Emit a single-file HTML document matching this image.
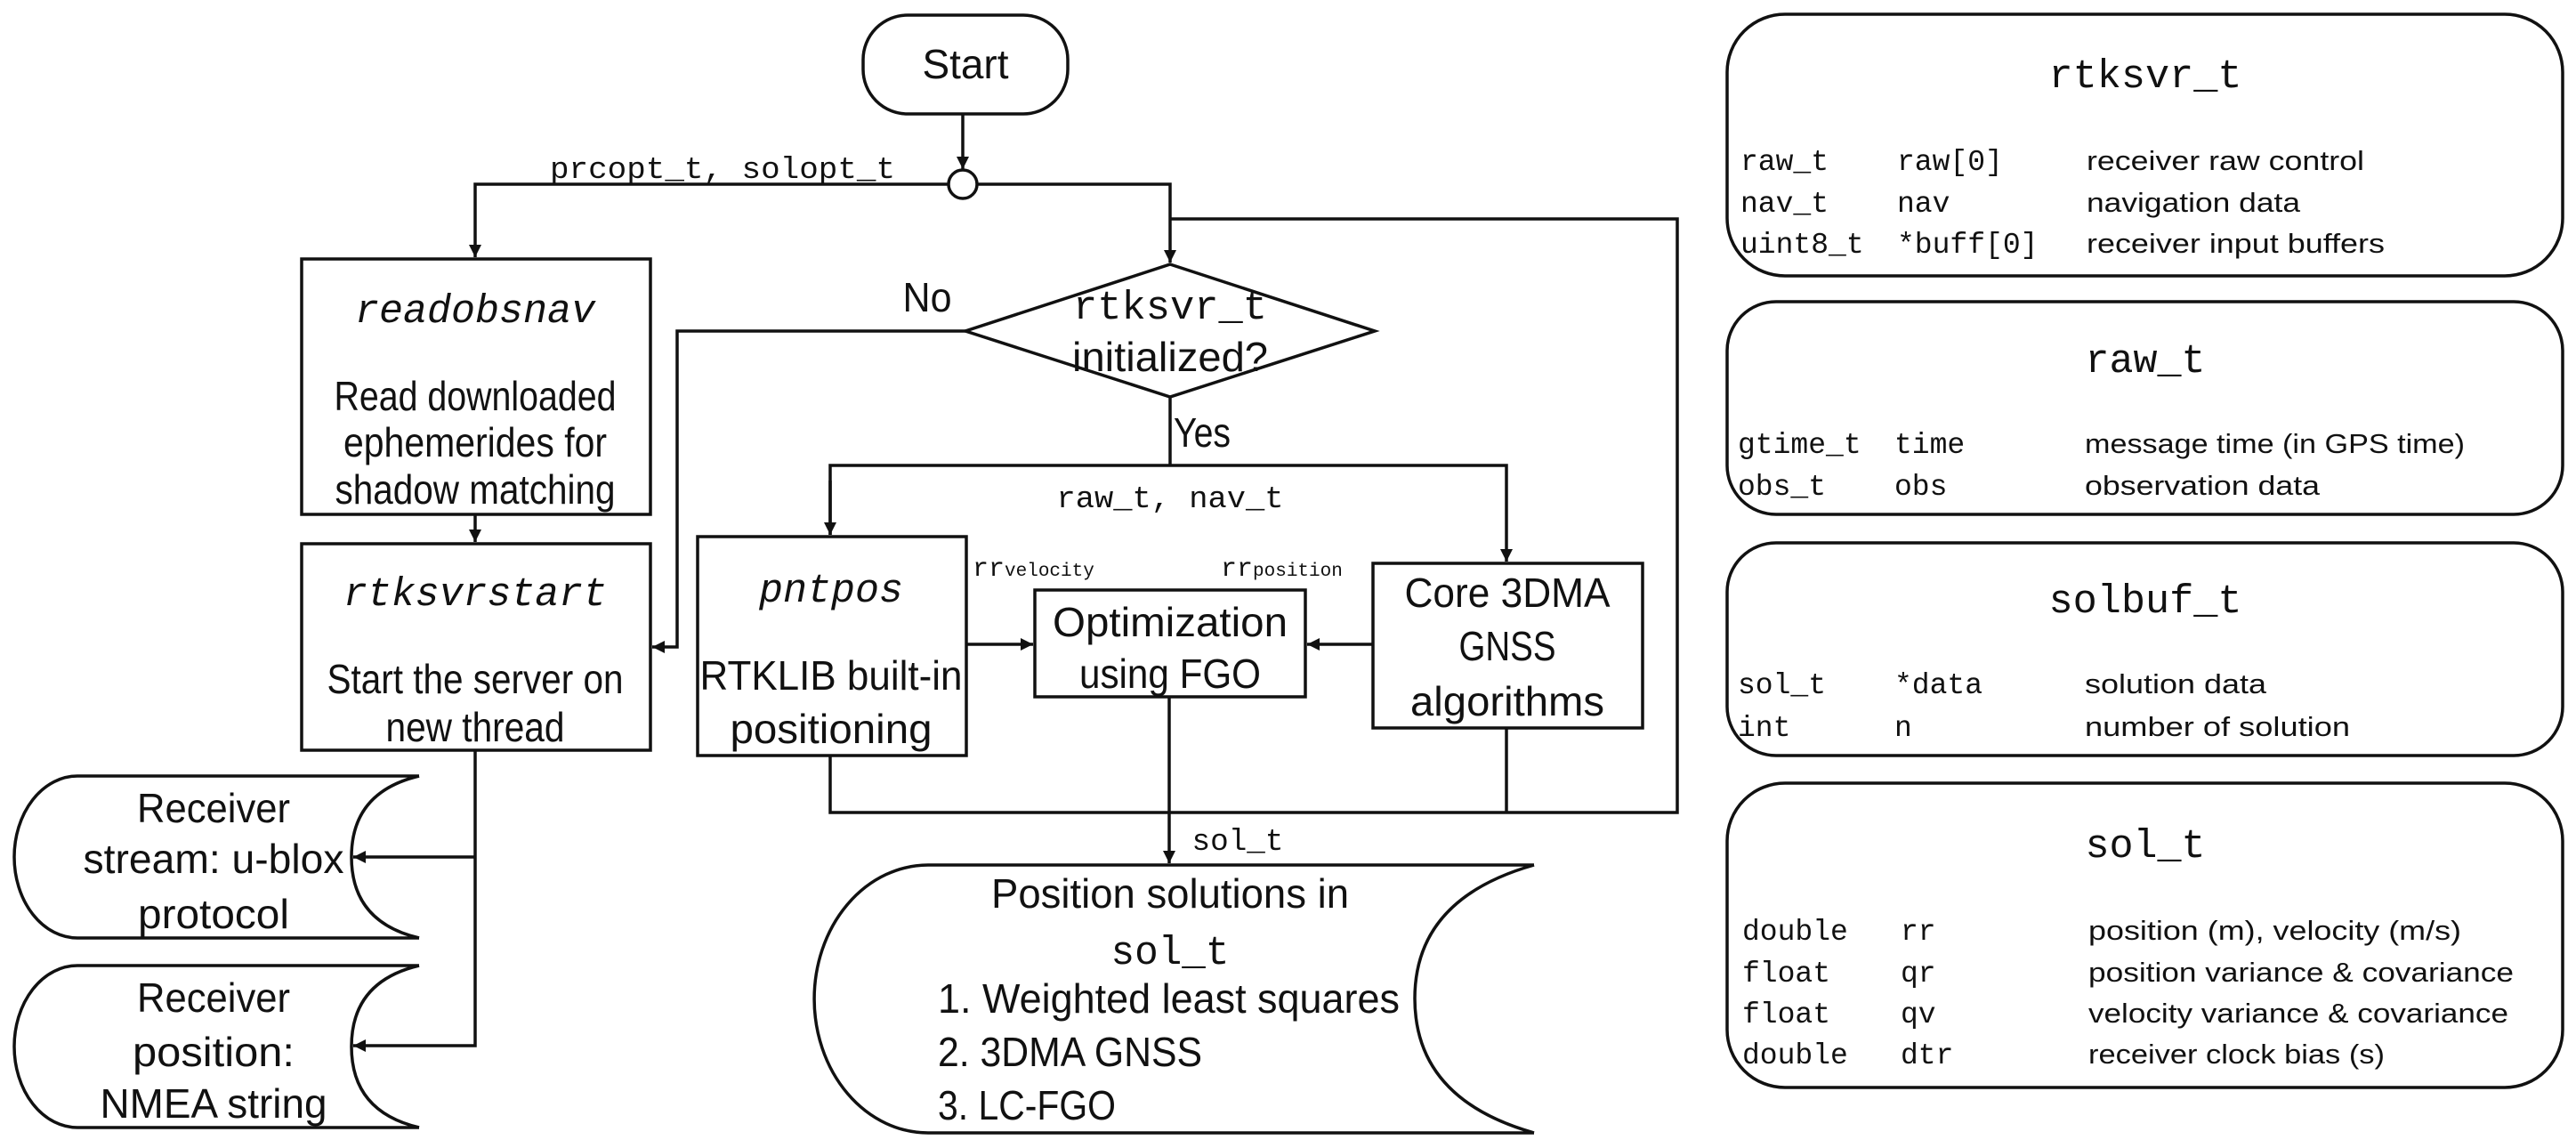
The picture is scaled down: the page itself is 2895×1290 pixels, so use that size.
<!DOCTYPE html>
<html><head><meta charset="utf-8"><style>
html,body{margin:0;padding:0;background:#fff;}
svg{display:block;}
.s{font-family:"Liberation Sans",sans-serif;fill:#111;}
.m{font-family:"Liberation Mono",monospace;fill:#111;}
</style></head><body>
<svg width="2895" height="1290" viewBox="0 0 2895 1290" xmlns="http://www.w3.org/2000/svg">
<defs>
<marker id="a" markerWidth="8" markerHeight="8" refX="7" refY="4" orient="auto" markerUnits="userSpaceOnUse" viewBox="0 0 8 8">
</marker>
<marker id="ar" viewBox="0 0 10 10" refX="10" refY="5" markerWidth="16" markerHeight="14" orient="auto" markerUnits="userSpaceOnUse"><path d="M0,0 L10,5 L0,10 z" fill="#111"/></marker>
</defs>
<g fill="none" stroke="#111" stroke-width="3.5">
<!-- Start -->
<rect x="970" y="17" width="230" height="111" rx="50" fill="#fff"/>
<line x1="1082" y1="128" x2="1082" y2="190" marker-end="url(#ar)"/>
<circle cx="1082" cy="207" r="16" fill="#fff"/>
<polyline points="1066,207 534,207 534,289" marker-end="url(#ar)"/>
<polyline points="1098,207 1315,207 1315,295" marker-end="url(#ar)"/>
<!-- feedback -->
<polyline points="1315,246 1885,246 1885,913 933,913 933,849"/>
<line x1="1693" y1="818" x2="1693" y2="913"/>
<!-- readobsnav -->
<rect x="339" y="291" width="392" height="287"/>
<line x1="534" y1="578" x2="534" y2="609" marker-end="url(#ar)"/>
<rect x="339" y="611" width="392" height="232"/>
<!-- No branch -->
<polyline points="1085,372 761,372 761,727 733,727" marker-end="url(#ar)"/>
<!-- diamond -->
<polygon points="1315,297 1545,372 1315,446 1085,372" fill="#fff"/>
<line x1="1315" y1="446" x2="1315" y2="523"/>
<polyline points="933,601 933,523 1693,523 1693,631" marker-end="url(#ar)"/>
<line x1="933" y1="540" x2="933" y2="601" marker-end="url(#ar)"/>
<!-- boxes -->
<rect x="784" y="603" width="302" height="246"/>
<rect x="1163" y="663" width="304" height="120"/>
<rect x="1543" y="633" width="303" height="185"/>
<line x1="1086" y1="724" x2="1161" y2="724" marker-end="url(#ar)"/>
<line x1="1543" y1="724" x2="1469" y2="724" marker-end="url(#ar)"/>
<line x1="1314" y1="783" x2="1314" y2="970" marker-end="url(#ar)"/>
<!-- left output line -->
<polyline points="534,843 534,1175 397,1175" marker-end="url(#ar)"/>
<line x1="534" y1="963" x2="397" y2="963" marker-end="url(#ar)"/>
<!-- data stores -->
<path d="M471,872 L87,872 A71,91 0 0 0 87,1054 L471,1054 M471,872 Q395,890 395,963 Q395,1036 471,1054"/>
<path d="M471,1085 L87,1085 A71,91 0 0 0 87,1267 L471,1267 M471,1085 Q395,1103 395,1176 Q395,1249 471,1267"/>
<path d="M1724,972 L1043,972 A128,150.5 0 0 0 1043,1273 L1724,1273 M1724,972 Q1590,1010 1590,1122 Q1590,1235 1724,1273"/>
<!-- right panel -->
<rect x="1941" y="16" width="939" height="294" rx="65"/>
<rect x="1941" y="339" width="939" height="239" rx="55"/>
<rect x="1941" y="610" width="939" height="239" rx="55"/>
<rect x="1941" y="880" width="939" height="342" rx="65"/>
</g>
<!-- text flowchart -->
<g class="s" font-size="46" text-anchor="middle">
<text x="1085" y="88" textLength="97" lengthAdjust="spacingAndGlyphs">Start</text>
<text x="534" y="461" textLength="317" lengthAdjust="spacingAndGlyphs">Read downloaded</text>
<text x="534" y="513" textLength="296" lengthAdjust="spacingAndGlyphs">ephemerides for</text>
<text x="534" y="566" textLength="315" lengthAdjust="spacingAndGlyphs">shadow matching</text>
<text x="534" y="779" textLength="333" lengthAdjust="spacingAndGlyphs">Start the server on</text>
<text x="534" y="833" textLength="201" lengthAdjust="spacingAndGlyphs">new thread</text>
<text x="1042" y="350" textLength="55" lengthAdjust="spacingAndGlyphs">No</text>
<text x="1315" y="417" textLength="220" lengthAdjust="spacingAndGlyphs">initialized?</text>
<text x="1351" y="502" textLength="64" lengthAdjust="spacingAndGlyphs">Yes</text>
<text x="934" y="775" textLength="295" lengthAdjust="spacingAndGlyphs">RTKLIB built-in</text>
<text x="934" y="835" textLength="227" lengthAdjust="spacingAndGlyphs">positioning</text>
<text x="1315" y="715" textLength="264" lengthAdjust="spacingAndGlyphs">Optimization</text>
<text x="1315" y="773" textLength="204" lengthAdjust="spacingAndGlyphs">using FGO</text>
<text x="1694" y="682" textLength="231" lengthAdjust="spacingAndGlyphs">Core 3DMA</text>
<text x="1694" y="742" textLength="109" lengthAdjust="spacingAndGlyphs">GNSS</text>
<text x="1694" y="804" textLength="218" lengthAdjust="spacingAndGlyphs">algorithms</text>
<text x="1315" y="1020" textLength="402" lengthAdjust="spacingAndGlyphs">Position solutions in</text>
<text x="240" y="924" textLength="172" lengthAdjust="spacingAndGlyphs">Receiver</text>
<text x="240" y="981" textLength="293" lengthAdjust="spacingAndGlyphs">stream: u-blox</text>
<text x="240" y="1043" textLength="170" lengthAdjust="spacingAndGlyphs">protocol</text>
<text x="240" y="1137" textLength="172" lengthAdjust="spacingAndGlyphs">Receiver</text>
<text x="240" y="1198" textLength="182" lengthAdjust="spacingAndGlyphs">position:</text>
<text x="240" y="1256" textLength="255" lengthAdjust="spacingAndGlyphs">NMEA string</text>
</g>
<g class="s" font-size="46">
<text x="1054" y="1138" textLength="519" lengthAdjust="spacingAndGlyphs">1. Weighted least squares</text>
<text x="1054" y="1198" textLength="297" lengthAdjust="spacingAndGlyphs">2. 3DMA GNSS</text>
<text x="1054" y="1258" textLength="200" lengthAdjust="spacingAndGlyphs">3. LC-FGO</text>
</g>
<g class="m" text-anchor="middle">
<text x="534" y="362" font-size="45" font-style="italic" textLength="270" lengthAdjust="spacingAndGlyphs">readobsnav</text>
<text x="534" y="680" font-size="45" font-style="italic" textLength="296" lengthAdjust="spacingAndGlyphs">rtksvrstart</text>
<text x="934" y="676" font-size="45" font-style="italic" textLength="162" lengthAdjust="spacingAndGlyphs">pntpos</text>
<text x="1315" y="358" font-size="45" textLength="218" lengthAdjust="spacingAndGlyphs">rtksvr_t</text>
<text x="812" y="200" font-size="34" textLength="388" lengthAdjust="spacingAndGlyphs">prcopt_t, solopt_t</text>
<text x="1315" y="570" font-size="34" textLength="255" lengthAdjust="spacingAndGlyphs">raw_t, nav_t</text>
<text x="1391" y="955" font-size="34" textLength="103" lengthAdjust="spacingAndGlyphs">sol_t</text>
<text x="1315" y="1083" font-size="45" textLength="133" lengthAdjust="spacingAndGlyphs">sol_t</text>
</g>
<g class="m">
<text x="1093" y="647" font-size="30">rr<tspan font-size="21">velocity</tspan></text>
<text x="1372" y="647" font-size="30">rr<tspan font-size="21">position</tspan></text>
</g>
<!-- right panel text -->
<g class="m" font-size="45" text-anchor="middle">
<text x="2411" y="98" textLength="217" lengthAdjust="spacingAndGlyphs">rtksvr_t</text>
<text x="2411" y="418" textLength="135" lengthAdjust="spacingAndGlyphs">raw_t</text>
<text x="2411" y="688" textLength="217" lengthAdjust="spacingAndGlyphs">solbuf_t</text>
<text x="2411" y="963" textLength="135" lengthAdjust="spacingAndGlyphs">sol_t</text>
</g>
<g class="m" font-size="33">
<text x="1956" y="191">raw_t</text><text x="2132" y="191">raw[0]</text>
<text x="1956" y="238">nav_t</text><text x="2132" y="238">nav</text>
<text x="1956" y="284">uint8_t</text><text x="2132" y="284">*buff[0]</text>
<text x="1953" y="509">gtime_t</text><text x="2129" y="509">time</text>
<text x="1953" y="556">obs_t</text><text x="2129" y="556">obs</text>
<text x="1953" y="779">sol_t</text><text x="2129" y="779">*data</text>
<text x="1953" y="827">int</text><text x="2129" y="827">n</text>
<text x="1958" y="1056">double</text><text x="2136" y="1056">rr</text>
<text x="1958" y="1103">float</text><text x="2136" y="1103">qr</text>
<text x="1958" y="1149">float</text><text x="2136" y="1149">qv</text>
<text x="1958" y="1195">double</text><text x="2136" y="1195">dtr</text>
</g>
<g class="s" font-size="31" fill="#222">
<text x="2345" y="191" textLength="312" lengthAdjust="spacingAndGlyphs">receiver raw control</text>
<text x="2345" y="238" textLength="240" lengthAdjust="spacingAndGlyphs">navigation data</text>
<text x="2345" y="284" textLength="335" lengthAdjust="spacingAndGlyphs">receiver input buffers</text>
<text x="2343" y="509" textLength="427" lengthAdjust="spacingAndGlyphs">message time (in GPS time)</text>
<text x="2343" y="556" textLength="264" lengthAdjust="spacingAndGlyphs">observation data</text>
<text x="2343" y="779" textLength="204" lengthAdjust="spacingAndGlyphs">solution data</text>
<text x="2343" y="827" textLength="298" lengthAdjust="spacingAndGlyphs">number of solution</text>
<text x="2347" y="1056" textLength="419" lengthAdjust="spacingAndGlyphs">position (m), velocity (m/s)</text>
<text x="2347" y="1103" textLength="478" lengthAdjust="spacingAndGlyphs">position variance &amp; covariance</text>
<text x="2347" y="1149" textLength="472" lengthAdjust="spacingAndGlyphs">velocity variance &amp; covariance</text>
<text x="2347" y="1195" textLength="333" lengthAdjust="spacingAndGlyphs">receiver clock bias (s)</text>
</g>
</svg>
</body></html>
